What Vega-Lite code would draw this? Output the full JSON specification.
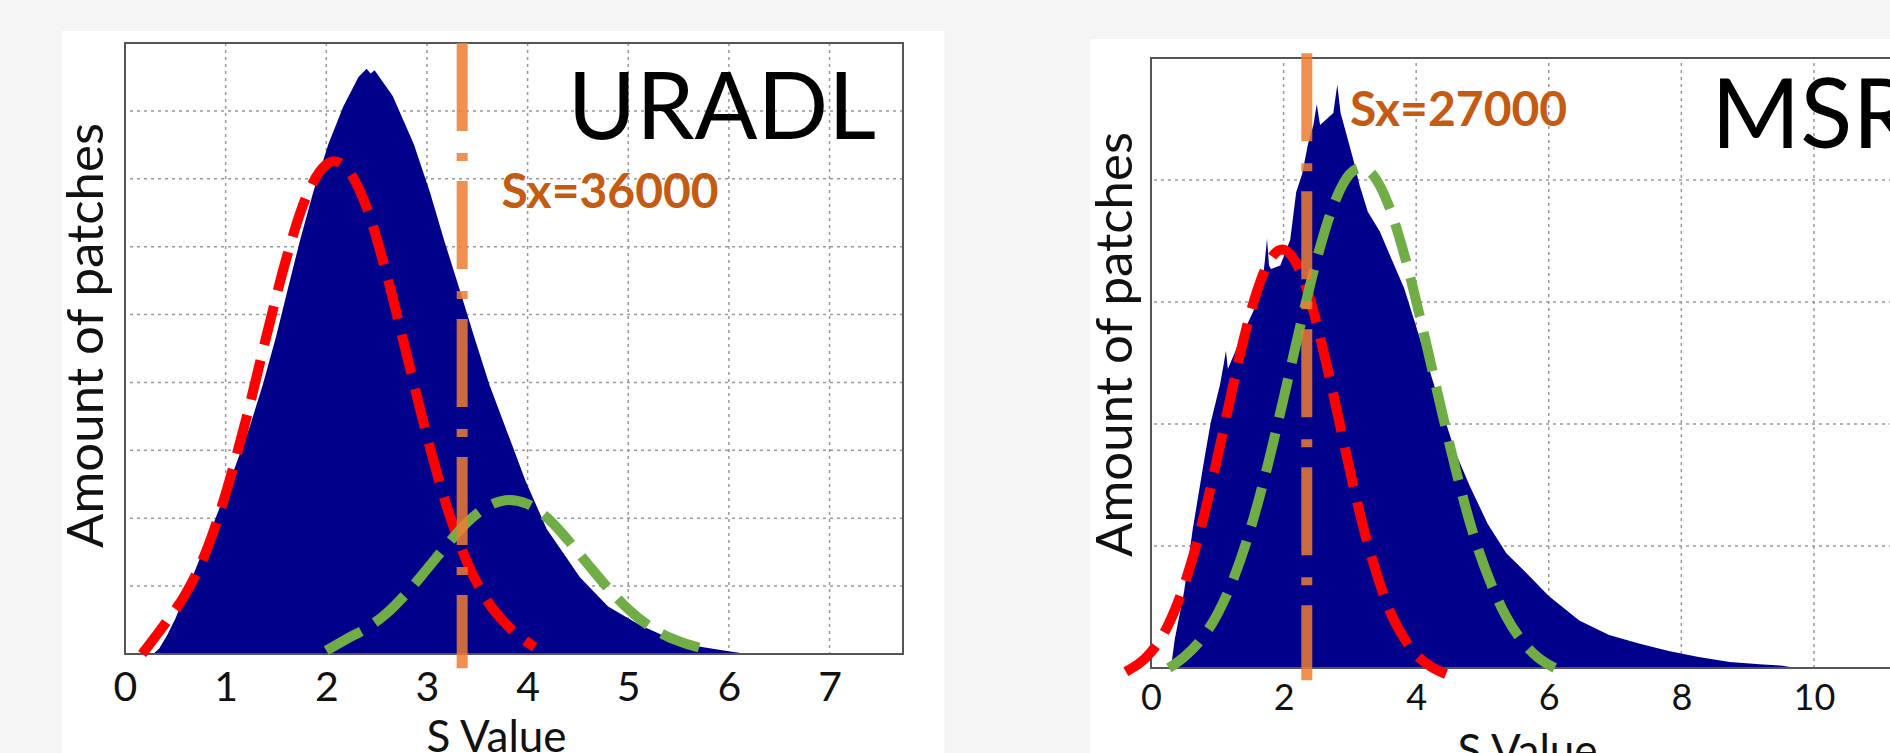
{
  "$schema": "https://vega.github.io/schema/vega-lite/v6.json",
  "background": "#f5f5f5",
  "padding": {"left": 61, "top": 31, "right": 0, "bottom": 0},
  "spacing": 145,
  "config": {
    "font": "Lato",
    "view": {"stroke": null},
    "axis": {"grid": false, "domain": false, "ticks": false, "labelFont": "Lato", "labelColor": "#111111", "titleFont": "Lato", "titleFontWeight": "normal", "titleColor": "#111111", "labelFlush": false, "labelOverlap": false}
  },
  "datasets": {
    "panelL": [{"x": -0.626, "x2": 8.143, "y": 9.175, "y2": -1.8}],
    "gridXL": [{"g": 1}, {"g": 2}, {"g": 3}, {"g": 4}, {"g": 5}, {"g": 6}, {"g": 7}],
    "gridYL": [{"g": 1}, {"g": 2}, {"g": 3}, {"g": 4}, {"g": 5}, {"g": 6}, {"g": 7}, {"g": 8}],
    "histL": [{"x":0.28,"y":0},{"x":0.34,"y":0.08},{"x":0.42,"y":0.28},{"x":0.50,"y":0.52},{"x":0.60,"y":0.88},{"x":0.72,"y":1.32},{"x":0.90,"y":2.0},{"x":1.08,"y":2.70},{"x":1.24,"y":3.35},{"x":1.37,"y":3.97},{"x":1.50,"y":4.67},{"x":1.62,"y":5.39},{"x":1.74,"y":6.10},{"x":1.87,"y":6.80},{"x":2.02,"y":7.51},{"x":2.17,"y":8.07},{"x":2.32,"y":8.50},{"x":2.40,"y":8.62},{"x":2.44,"y":8.55},{"x":2.48,"y":8.60},{"x":2.55,"y":8.45},{"x":2.66,"y":8.22},{"x":2.87,"y":7.51},{"x":3.03,"y":6.80},{"x":3.17,"y":6.10},{"x":3.32,"y":5.39},{"x":3.47,"y":4.67},{"x":3.62,"y":3.97},{"x":3.80,"y":3.26},{"x":3.98,"y":2.55},{"x":4.19,"y":1.84},{"x":4.52,"y":1.13},{"x":4.80,"y":0.70},{"x":5.11,"y":0.43},{"x":5.53,"y":0.15},{"x":5.95,"y":0.05},{"x":6.10,"y":0.02},{"x":6.12,"y":0}],
    "redL": [{"x":0.17,"y":0.0},{"x":0.4,"y":0.45},{"x":0.6,"y":0.88},{"x":0.8,"y":1.49},{"x":1.0,"y":2.36},{"x":1.2,"y":3.44},{"x":1.4,"y":4.65},{"x":1.6,"y":5.81},{"x":1.8,"y":6.73},{"x":2.0,"y":7.21},{"x":2.08,"y":7.26},{"x":2.2,"y":7.16},{"x":2.4,"y":6.58},{"x":2.6,"y":5.59},{"x":2.8,"y":4.40},{"x":3.0,"y":3.21},{"x":3.2,"y":2.16},{"x":3.4,"y":1.35},{"x":3.6,"y":0.78},{"x":3.8,"y":0.42},{"x":4.07,"y":0.1}],
    "greenL": [{"x":2.0,"y":0.05},{"x":2.2,"y":0.22},{"x":2.4,"y":0.38},{"x":2.6,"y":0.60},{"x":2.8,"y":0.90},{"x":3.0,"y":1.25},{"x":3.2,"y":1.61},{"x":3.4,"y":1.94},{"x":3.6,"y":2.17},{"x":3.82,"y":2.27},{"x":4.0,"y":2.21},{"x":4.2,"y":2.00},{"x":4.4,"y":1.68},{"x":4.6,"y":1.32},{"x":4.8,"y":0.97},{"x":5.0,"y":0.66},{"x":5.2,"y":0.42},{"x":5.4,"y":0.25},{"x":5.6,"y":0.14},{"x":5.83,"y":0.05}],
    "sxLineL": [{"x": 3.35, "y": 9, "y2": -0.21}],
    "nameL": [{"x": 4.40, "y": 7.58, "label": "URADL"}],
    "sxL": [{"x": 3.74, "y": 6.57, "label": "Sx=36000"}],
    "panelR": [{"x": -0.92, "x2": 12.5, "y": 5.156, "y2": -1.2}],
    "gridXR": [{"g": 2}, {"g": 4}, {"g": 6}, {"g": 8}, {"g": 10}],
    "gridYR": [{"g": 1}, {"g": 2}, {"g": 3}, {"g": 4}],
    "histR": [{"x":0.30,"y":0},{"x":0.36,"y":0.24},{"x":0.50,"y":0.63},{"x":0.63,"y":1.14},{"x":0.81,"y":1.73},{"x":0.90,"y":2.01},{"x":1.04,"y":2.32},{"x":1.10,"y":2.50},{"x":1.13,"y":2.60},{"x":1.16,"y":2.45},{"x":1.36,"y":2.71},{"x":1.54,"y":2.92},{"x":1.67,"y":3.11},{"x":1.72,"y":3.35},{"x":1.75,"y":3.52},{"x":1.78,"y":3.30},{"x":1.81,"y":3.27},{"x":1.95,"y":3.30},{"x":2.10,"y":3.51},{"x":2.19,"y":3.90},{"x":2.28,"y":4.05},{"x":2.37,"y":4.30},{"x":2.45,"y":4.45},{"x":2.50,"y":4.62},{"x":2.55,"y":4.45},{"x":2.65,"y":4.50},{"x":2.75,"y":4.55},{"x":2.81,"y":4.78},{"x":2.86,"y":4.55},{"x":2.91,"y":4.45},{"x":3.05,"y":4.17},{"x":3.15,"y":3.95},{"x":3.27,"y":3.74},{"x":3.45,"y":3.58},{"x":3.63,"y":3.35},{"x":3.82,"y":3.11},{"x":4.00,"y":2.80},{"x":4.18,"y":2.48},{"x":4.36,"y":2.16},{"x":4.59,"y":1.77},{"x":4.81,"y":1.49},{"x":5.08,"y":1.18},{"x":5.36,"y":0.94},{"x":5.64,"y":0.79},{"x":6.00,"y":0.59},{"x":6.46,"y":0.39},{"x":6.91,"y":0.27},{"x":7.36,"y":0.20},{"x":7.81,"y":0.14},{"x":8.26,"y":0.09},{"x":8.73,"y":0.05},{"x":9.18,"y":0.03},{"x":9.50,"y":0.02},{"x":9.73,"y":0}],
    "redR": [{"x":-0.38,"y":-0.03},{"x":0.0,"y":0.13},{"x":0.2,"y":0.29},{"x":0.4,"y":0.53},{"x":0.6,"y":0.85},{"x":0.8,"y":1.25},{"x":1.0,"y":1.72},{"x":1.2,"y":2.22},{"x":1.4,"y":2.70},{"x":1.6,"y":3.09},{"x":1.8,"y":3.35},{"x":1.98,"y":3.43},{"x":2.2,"y":3.31},{"x":2.4,"y":3.02},{"x":2.6,"y":2.60},{"x":2.8,"y":2.12},{"x":3.0,"y":1.62},{"x":3.2,"y":1.16},{"x":3.4,"y":0.78},{"x":3.6,"y":0.47},{"x":3.8,"y":0.26},{"x":4.0,"y":0.11},{"x":4.2,"y":0.02},{"x":4.45,"y":-0.05}],
    "greenR": [{"x":0.27,"y":0.0},{"x":0.5,"y":0.09},{"x":0.75,"y":0.23},{"x":1.0,"y":0.44},{"x":1.25,"y":0.74},{"x":1.5,"y":1.14},{"x":1.75,"y":1.64},{"x":2.0,"y":2.21},{"x":2.25,"y":2.80},{"x":2.5,"y":3.35},{"x":2.75,"y":3.79},{"x":3.0,"y":4.05},{"x":3.17,"y":4.10},{"x":3.35,"y":4.04},{"x":3.6,"y":3.77},{"x":3.85,"y":3.33},{"x":4.1,"y":2.78},{"x":4.35,"y":2.19},{"x":4.6,"y":1.62},{"x":4.85,"y":1.12},{"x":5.1,"y":0.73},{"x":5.35,"y":0.43},{"x":5.6,"y":0.22},{"x":5.85,"y":0.08},{"x":6.09,"y":0.0}],
    "sxLineR": [{"x": 2.35, "y": 5.04, "y2": -0.1}],
    "nameR": [{"x": 8.45, "y": 4.26, "label": "MSR"}],
    "sxR": [{"x": 3.0, "y": 4.44, "label": "Sx=27000"}]
  },
  "hconcat": [
    {
      "width": 778,
      "height": 611,
      "layer": [
        {
          "data": {"name": "panelL"},
          "mark": {"type": "rect", "fill": "#ffffff"},
          "encoding": {
            "x": {"field": "x", "type": "quantitative", "scale": {"domain": [0, 7.73], "nice": false, "zero": false},
                  "axis": {"zindex": 2, "title": "S Value", "format": "d", "values": [0, 1, 2, 3, 4, 5, 6, 7], "labelPadding": 14, "labelFontSize": 41, "titlePadding": 8, "titleFontSize": 44, "titleX": 371}},
            "x2": {"field": "x2"},
            "y": {"field": "y", "type": "quantitative", "scale": {"domain": [0, 9], "nice": false, "zero": false},
                  "axis": {"zindex": 2, "title": "Amount of patches", "labels": false, "titlePadding": 12, "titleFontSize": 51, "titleY": 292}},
            "y2": {"field": "y2"}
          }
        },
        {
          "data": {"name": "gridXL"},
          "mark": {"type": "rule", "stroke": "#999999", "strokeWidth": 1.5, "strokeDash": [3, 4]},
          "encoding": {"x": {"field": "g", "type": "quantitative"}}
        },
        {
          "data": {"name": "gridYL"},
          "mark": {"type": "rule", "stroke": "#999999", "strokeWidth": 1.5, "strokeDash": [3, 4]},
          "encoding": {"y": {"field": "g", "type": "quantitative"}}
        },
        {
          "data": {"name": "histL"},
          "mark": {"type": "area", "color": "#00008B", "interpolate": "linear"},
          "encoding": {"x": {"field": "x", "type": "quantitative"}, "y": {"field": "y", "type": "quantitative"}}
        },
        {
          "data": {"values": [{}]},
          "mark": {"type": "rect", "filled": false, "stroke": "#555555", "strokeWidth": 2},
          "encoding": {"x": {"datum": 0}, "x2": {"datum": 7.73}, "y": {"datum": 0}, "y2": {"datum": 9}}
        },
        {
          "data": {"name": "redL"},
          "mark": {"type": "line", "color": "#FF0000", "strokeWidth": 10, "strokeDash": [40, 16], "strokeCap": "butt", "interpolate": "monotone"},
          "encoding": {"x": {"field": "x", "type": "quantitative"}, "y": {"field": "y", "type": "quantitative"}}
        },
        {
          "data": {"name": "greenL"},
          "mark": {"type": "line", "color": "#70AD47", "strokeWidth": 10, "strokeDash": [40, 16], "strokeCap": "butt", "interpolate": "monotone"},
          "encoding": {"x": {"field": "x", "type": "quantitative"}, "y": {"field": "y", "type": "quantitative"}}
        },
        {
          "data": {"name": "sxLineL"},
          "mark": {"type": "rule", "color": "#ED7D31", "strokeWidth": 11, "opacity": 0.85, "strokeDash": [88, 22, 8, 20], "strokeCap": "butt"},
          "encoding": {"x": {"field": "x", "type": "quantitative"}, "y": {"field": "y", "type": "quantitative"}, "y2": {"field": "y2"}}
        },
        {
          "data": {"name": "nameL"},
          "mark": {"type": "text", "align": "left", "baseline": "alphabetic", "font": "Lato", "fontSize": 93, "color": "#000000"},
          "encoding": {"x": {"field": "x", "type": "quantitative"}, "y": {"field": "y", "type": "quantitative"}, "text": {"field": "label"}}
        },
        {
          "data": {"name": "sxL"},
          "mark": {"type": "text", "align": "left", "baseline": "alphabetic", "font": "Lato", "fontSize": 48, "fontWeight": "bold", "color": "#C55A11"},
          "encoding": {"x": {"field": "x", "type": "quantitative"}, "y": {"field": "y", "type": "quantitative"}, "text": {"field": "label"}}
        }
      ]
    },
    {
      "width": 769,
      "height": 625,
      "layer": [
        {
          "data": {"name": "panelR"},
          "mark": {"type": "rect", "fill": "#ffffff"},
          "encoding": {
            "x": {"field": "x", "type": "quantitative", "scale": {"domain": [0, 11.6], "nice": false, "zero": false},
                  "axis": {"zindex": 2, "title": "S Value", "format": "d", "values": [0, 2, 4, 6, 8, 10], "labelPadding": 13, "labelFontSize": 36, "titlePadding": 14, "titleFontSize": 44, "titleX": 376}},
            "x2": {"field": "x2"},
            "y": {"field": "y", "type": "quantitative", "scale": {"domain": [0, 5.123], "nice": false, "zero": false},
                  "axis": {"zindex": 2, "title": "Amount of patches", "labels": false, "titlePadding": 9, "titleFontSize": 51, "titleY": 301}},
            "y2": {"field": "y2"}
          }
        },
        {
          "data": {"name": "gridXR"},
          "mark": {"type": "rule", "stroke": "#999999", "strokeWidth": 1.5, "strokeDash": [3, 4]},
          "encoding": {"x": {"field": "g", "type": "quantitative"}, "y": {"datum": 0}, "y2": {"datum": 5}}
        },
        {
          "data": {"name": "gridYR"},
          "mark": {"type": "rule", "stroke": "#999999", "strokeWidth": 1.5, "strokeDash": [3, 4]},
          "encoding": {"y": {"field": "g", "type": "quantitative"}}
        },
        {
          "data": {"name": "histR"},
          "mark": {"type": "area", "color": "#00008B", "interpolate": "linear"},
          "encoding": {"x": {"field": "x", "type": "quantitative"}, "y": {"field": "y", "type": "quantitative"}}
        },
        {
          "data": {"values": [{}]},
          "mark": {"type": "rect", "filled": false, "stroke": "#555555", "strokeWidth": 2},
          "encoding": {"x": {"datum": 0}, "x2": {"datum": 11.6}, "y": {"datum": 0}, "y2": {"datum": 5}}
        },
        {
          "data": {"name": "redR"},
          "mark": {"type": "line", "color": "#FF0000", "strokeWidth": 10, "strokeDash": [40, 16], "strokeCap": "butt", "interpolate": "monotone"},
          "encoding": {"x": {"field": "x", "type": "quantitative"}, "y": {"field": "y", "type": "quantitative"}}
        },
        {
          "data": {"name": "greenR"},
          "mark": {"type": "line", "color": "#70AD47", "strokeWidth": 10, "strokeDash": [40, 16], "strokeCap": "butt", "interpolate": "monotone"},
          "encoding": {"x": {"field": "x", "type": "quantitative"}, "y": {"field": "y", "type": "quantitative"}}
        },
        {
          "data": {"name": "sxLineR"},
          "mark": {"type": "rule", "color": "#ED7D31", "strokeWidth": 11, "opacity": 0.85, "strokeDash": [88, 22, 8, 20], "strokeCap": "butt"},
          "encoding": {"x": {"field": "x", "type": "quantitative"}, "y": {"field": "y", "type": "quantitative"}, "y2": {"field": "y2"}}
        },
        {
          "data": {"name": "nameR"},
          "mark": {"type": "text", "align": "left", "baseline": "alphabetic", "font": "Lato", "fontSize": 96, "color": "#000000"},
          "encoding": {"x": {"field": "x", "type": "quantitative"}, "y": {"field": "y", "type": "quantitative"}, "text": {"field": "label"}}
        },
        {
          "data": {"name": "sxR"},
          "mark": {"type": "text", "align": "left", "baseline": "alphabetic", "font": "Lato", "fontSize": 48, "fontWeight": "bold", "color": "#C55A11"},
          "encoding": {"x": {"field": "x", "type": "quantitative"}, "y": {"field": "y", "type": "quantitative"}, "text": {"field": "label"}}
        }
      ]
    }
  ]
}
